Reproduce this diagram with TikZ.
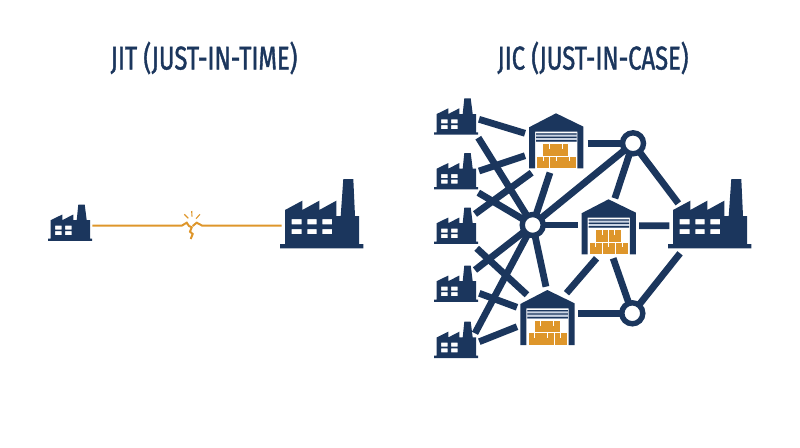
\documentclass[tikz,border=0pt]{standalone}
\usepackage{fontspec}
\usetikzlibrary{backgrounds}
\newfontfamily\titlefont[FakeStretch=0.72,FakeBold=1.2]{Fira Sans}
\definecolor{navy}{HTML}{1B365D}
\definecolor{amber}{HTML}{DE962B}
\definecolor{slat}{HTML}{C9D3E3}
\tikzset{
  iconbox/.style={inner sep=0pt,outer sep=0pt,anchor=north west,minimum width=#1},
  link/.style={draw=navy,line width=6.8pt},
  thread/.style={draw=amber,line width=2pt},
  spark/.style={draw=amber,line width=1.1pt},
  hub/.style={circle,draw=navy,fill=white,line width=5.4pt,minimum size=21pt,inner sep=0pt},
  heading/.style={text=navy,font=\titlefont\fontsize{33}{36}\selectfont,inner sep=0pt},
  smallfac/.pic={
    \fill[navy,even odd rule] (2.7,15.7)--(14.3,10)--(14.3,15.7)--(25.3,10)--(25.3,15.7)--(28.7,15.7)--(30.3,0)--(36.7,0)--(38.7,15.7)--(42,15.7)--(42,34)--(44,34)--(44,36.3)--(0,36.3)--(0,34)--(2.7,34)--cycle
      (7,21) rectangle (13.7,25) (17,21) rectangle (23.7,25)
      (7,26.7) rectangle (13.7,30.7) (17,26.7) rectangle (23.7,30.7);
  },
  bigfac/.pic={
    \fill[navy,even odd rule] (5,31)--(22.3,21.7)--(22.3,31)--(39.3,21.7)--(39.3,31)--(56.3,21.7)--(56.3,37)--(60.7,37)--(63.3,0)--(73.3,0)--(75,37)--(79,37)--(79,65)--(83.3,65)--(83.3,69.3)--(0,69.3)--(0,65)--(5,65)--cycle
      (11.7,40) rectangle (21.7,45.3) (27.3,40) rectangle (36.7,45.3) (42.3,40) rectangle (52,45.3)
      (11.7,50) rectangle (21.7,55) (27.3,50) rectangle (36.7,55) (42.3,50) rectangle (52,55);
  },
  depot/.pic={
    \fill[navy] (0,14)--(27,0)--(54.3,13.3)--(54.3,55)--(48.3,55)--(48.3,18.3)--(6,18.3)--(6,55)--(0,55)--cycle;
    \fill[slat] (7,20) rectangle (47.5,28.5);
    \fill[navy] (7,20) rectangle (47.5,21.3) (7,23.3) rectangle (47.5,24.6) (7,26.8) rectangle (47.5,28.3);
    \foreach \xa/\xb/\ya/\yb in {14.3/26.7/31/42.3,27/39.3/31/42.3,8.3/20.3/43.3/55,21/33.7/43.3/55,34.3/46.7/43.3/55}{
      \fill[amber] (\xa,\ya) rectangle (\xb,\yb);
      \fill[white] ({(\xa+\xb)/2-0.5},\ya) rectangle ({(\xa+\xb)/2+0.5},\ya+4.5);
    }
  },
}
\begin{document}
\begin{tikzpicture}[x=1pt,y=-1pt]
\useasboundingbox (0,0) rectangle (800,447);

\node[heading] (t1) at (204,58) {JIT (JUST-IN-TIME)};
\node[heading] (t2) at (593,58) {JIC (JUST-IN-CASE)};

% icon placeholders
\node[iconbox=44pt,minimum height=36pt] (f0) at (48,204.5) {};
\node[iconbox=83.3pt,minimum height=69.3pt] (F0) at (280,179) {};
\node[iconbox=44pt,minimum height=36pt] (f1) at (434,98.3) {};
\node[iconbox=44pt,minimum height=36pt] (f2) at (434,153) {};
\node[iconbox=44pt,minimum height=36pt] (f3) at (434,207.5) {};
\node[iconbox=44pt,minimum height=36pt] (f4) at (434,265.5) {};
\node[iconbox=44pt,minimum height=36pt] (f5) at (434,321.7) {};
\node[iconbox=54.3pt,minimum height=55pt] (w1) at (529,113.3) {};
\node[iconbox=54.3pt,minimum height=55pt] (w2) at (581.5,199.3) {};
\node[iconbox=54.3pt,minimum height=55pt] (w3) at (520.3,290) {};
\node[iconbox=83.3pt,minimum height=69.3pt] (F) at (668,179) {};
\node[hub] (h1) at (532.7,225) {};
\node[hub] (h2) at (633,143.3) {};
\node[hub] (h3) at (632.3,313.3) {};

\pic at (f0.north west) {smallfac};
\pic at (F0.north west) {bigfac};
\pic at (f1.north west) {smallfac};
\pic at (f2.north west) {smallfac};
\pic at (f3.north west) {smallfac};
\pic at (f4.north west) {smallfac};
\pic at (f5.north west) {smallfac};
\pic at (w1.north west) {depot};
\pic at (w2.north west) {depot};
\pic at (w3.north west) {depot};
\pic at (F.north west) {bigfac};

% JIT thread with its break
\coordinate (c1) at (181.7,225.7);
\coordinate (c2) at (202.3,225.7);
\draw[thread] ([shift={(0.3,3.2)}]f0.east) -- (c1) -- (186.7,222.7) -- (189,226) -- (191.7,227.3) -- (190,231.7) -- (192.7,234) -- (190.7,239);
\draw[thread] (192.7,226) -- (196.7,222.7) -- (c2) -- ([shift={(1.7,11.9)}]F0.west);
\draw[spark] (191.7,211) -- (192,216.7);
\draw[spark] (184.3,214.3) -- (188.3,218.3);
\draw[spark] (200,214.3) -- (196,218.7);

\begin{scope}[on background layer]
\draw[link] ([shift={(1,3)}]f1.east) -- ([shift={(-4,-7.5)}]w1.west);
\draw[link] ([shift={(1,0)}]f2.east) -- ([shift={(-4,14.9)}]w1.west);
\draw[link] ([shift={(0.3,21.4)}]f1.east) -- (h1.center);
\draw[link] ([shift={(-3,-11.5)}]f3.east) -- ([shift={(-24.5,4.4)}]w1.south);
\draw[link] ([shift={(0.3,21.7)}]f2.east) -- (h1.center);
\draw[link] ([shift={(-1.3,22.8)}]f3.east) -- ([shift={(-20.5,4.8)}]w3.north);
\draw[link] ([shift={(-3,-13.5)}]f4.east) -- (h1.center);
\draw[link] ([shift={(-3,-6.4)}]f5.east) -- (h1.center);
\draw[link] ([shift={(1.3,9.8)}]f4.east) -- ([shift={(-3.3,-10.2)}]w3.west);
\draw[link] ([shift={(1.3,2)}]f5.east) -- ([shift={(-3.3,9.2)}]w3.west);
\draw[link] (h1.center) -- ([shift={(-1.5,-3.3)}]w3.north);
\draw[link] (h1.center) -- ([shift={(-6.2,4.4)}]w1.south);
\draw[link] (h1.center) -- (h2.center);
\draw[link] (h1.center) -- ([shift={(-3.5,-1.8)}]w2.west);
\draw[link] ([shift={(4.2,2.5)}]w1.east) -- (h2.center);
\draw[link] (h2.center) -- ([shift={(6.2,-1)}]w2.north);
\draw[link] (h2.center) -- ([shift={(10.3,-10.3)}]F.west);
\draw[link] ([shift={(3.3,-1.1)}]w2.east) -- ([shift={(1.3,12.1)}]F.west);
\draw[link] ([shift={(19,3.2)}]w3.north) -- ([shift={(-12.1,4)}]w2.south);
\draw[link] ([shift={(4.5,4)}]w2.south) -- (h3.center);
\draw[link] ([shift={(3.5,-4.2)}]w3.east) -- (h3.center);
\draw[link] (h3.center) -- ([shift={(-29.6,5)}]F.south);
\end{scope}
\end{tikzpicture}
\end{document}
